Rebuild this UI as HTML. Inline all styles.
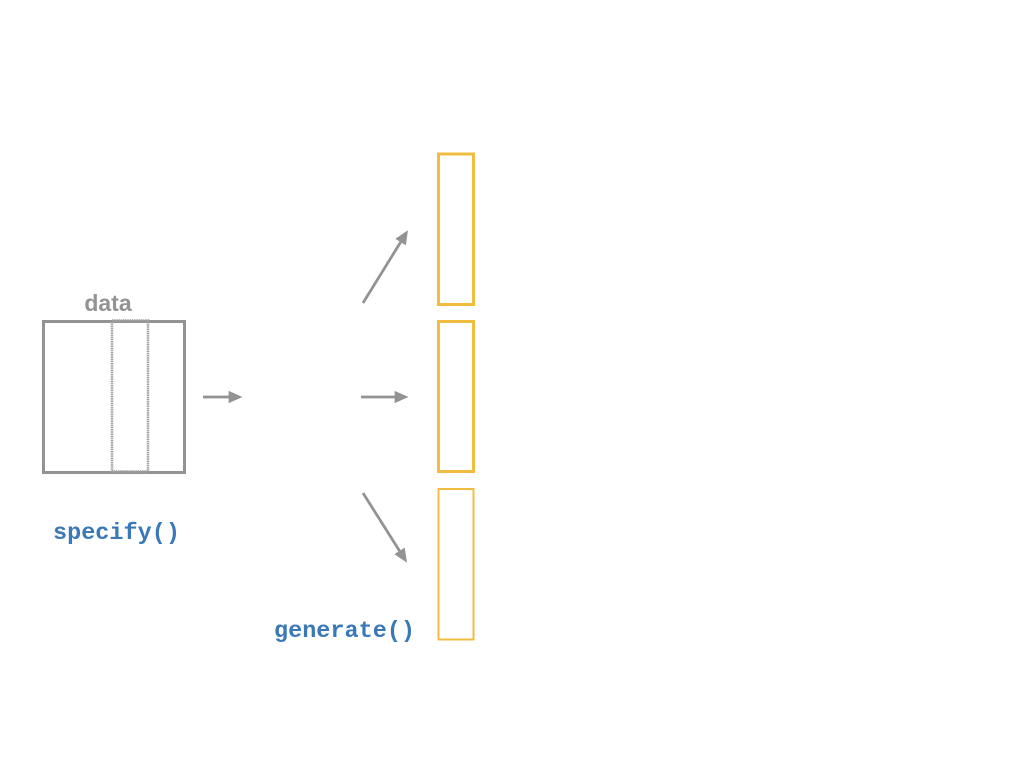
<!DOCTYPE html>
<html><head><style>
body{margin:0;width:1024px;height:768px;background:#fff;overflow:hidden;position:relative}
.t{position:absolute;font-family:"Liberation Mono",monospace;font-weight:bold;color:#3a78b8;font-size:23.5px;line-height:24px}
</style></head><body>
<svg width="1024" height="768" style="position:absolute;left:0;top:0">
<defs><marker id="a" markerWidth="5" markerHeight="4.4" refX="3" refY="2.2" orient="auto" markerUnits="strokeWidth"><path d="M0,0 L5,2.2 L0,4.4 z" fill="#939393"/></marker></defs>
<rect x="43.5" y="321.5" width="141" height="151" fill="none" stroke="#939393" stroke-width="3"/>
<rect x="112" y="320.5" width="36" height="151" fill="none" stroke="#a0a0a0" stroke-width="2.5" stroke-dasharray="1.5,0.7"/>
<text x="108" y="311" text-anchor="middle" font-family="Liberation Sans,sans-serif" font-weight="bold" font-size="23" fill="#939393">data</text>
<g stroke="#939393" stroke-width="2.8" marker-end="url(#a)">
<line x1="203" y1="397" x2="237" y2="397"/>
<line x1="361" y1="397" x2="403" y2="397"/>
<line x1="363" y1="303" x2="405" y2="235"/>
<line x1="363" y1="493" x2="404" y2="558"/>
</g>
<rect x="438.5" y="154" width="35" height="150.5" fill="none" stroke="#f0bd41" stroke-width="3"/>
<rect x="438.5" y="321.5" width="35" height="150" fill="none" stroke="#f0bd41" stroke-width="3"/>
<rect x="438.5" y="489" width="35" height="150.5" fill="none" stroke="#f0bd41" stroke-width="2"/>
</svg>
<div class="t" style="left:53px;top:522px">specify()</div>
<div class="t" style="left:274px;top:620px">generate()</div>
</body></html>
